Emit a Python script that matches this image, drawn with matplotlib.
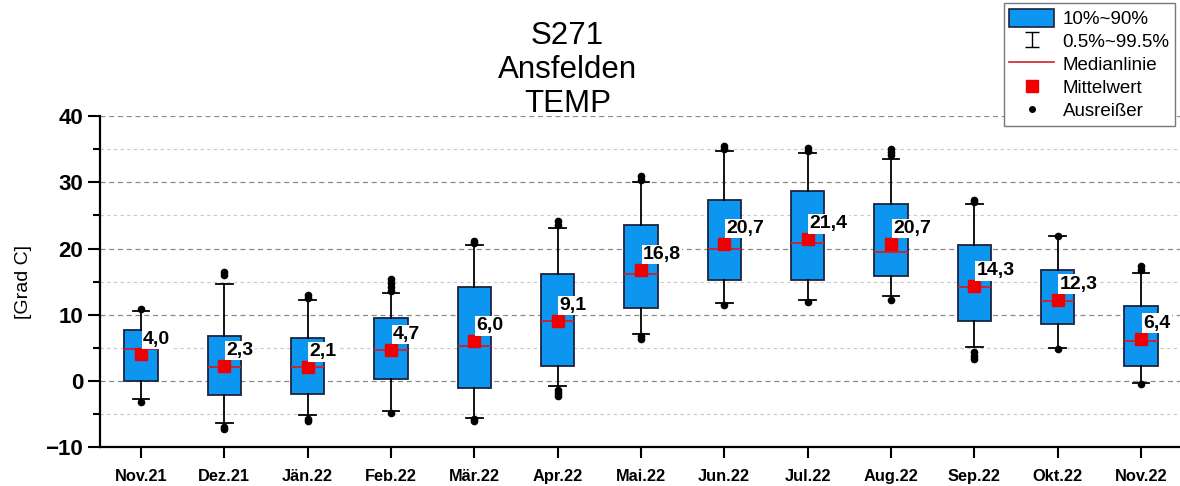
import matplotlib
matplotlib.use("Agg")
import matplotlib.pyplot as plt
import numpy as np
from matplotlib.lines import Line2D
from matplotlib.patches import Patch
from matplotlib.container import ErrorbarContainer
from matplotlib.legend_handler import HandlerErrorbar
from matplotlib.ticker import MultipleLocator

plt.rcParams['font.family'] = ['Liberation Sans', 'DejaVu Sans']

# Monatswerte TEMP, S271 Ansfelden
monate = ["Nov.21", "Dez.21", "Jän.22", "Feb.22", "Mär.22", "Apr.22", "Mai.22",
          "Jun.22", "Jul.22", "Aug.22", "Sep.22", "Okt.22", "Nov.22"]
p10 = [0.0, -2.2, -1.9, 0.25, -1.0, 2.3, 11.0, 15.3, 15.2, 15.9, 9.0, 8.6, 2.3]
p90 = [7.7, 6.8, 6.5, 9.5, 14.2, 16.1, 23.6, 27.3, 28.7, 26.8, 20.5, 16.8, 11.3]
median = [4.8, 2.1, 2.1, 4.6, 5.3, 9.0, 16.2, 19.9, 20.9, 19.5, 14.2, 12.0, 6.0]
mittel = [4.0, 2.3, 2.1, 4.7, 6.0, 9.1, 16.8, 20.7, 21.4, 20.7, 14.3, 12.3, 6.4]
p005 = [-2.7, -6.3, -5.2, -4.6, -5.6, -0.7, 7.1, 11.8, 12.2, 12.8, 5.1, 5.0, -0.3]
p995 = [10.6, 14.7, 12.2, 13.3, 20.6, 23.1, 30.0, 34.8, 34.4, 33.6, 26.7, 21.9, 16.3]
ausreisser = [
    [10.9, -3.2],
    [16.0, 16.4, -7.0, -7.3],
    [12.6, 13.0, -5.8, -6.1],
    [13.6, 14.2, 14.8, 15.4, -4.8],
    [20.9, 21.2, -5.8, -6.1],
    [23.5, 24.1, -1.3, -1.8, -2.3],
    [30.3, 30.9, 6.4, 6.8],
    [35.0, 35.5, 11.5],
    [34.7, 35.2, 11.9],
    [34.1, 34.6, 35.1, 12.3],
    [27.0, 27.4, 3.3, 3.8, 4.4],
    [21.9, 4.8],
    [16.7, 17.3, -0.4],
]

fig = plt.figure(figsize=(11.8, 4.86), dpi=100)
ax = fig.add_axes([0.0847, 0.080, 0.9153, 0.681])

stats = []
for i in range(len(monate)):
    stats.append(dict(med=median[i], q1=p10[i], q3=p90[i], whislo=p005[i],
                      whishi=p995[i], mean=mittel[i], fliers=ausreisser[i]))

blau = "#0C96F0"
ax.bxp(stats, positions=range(len(monate)), widths=0.4, patch_artist=True,
       showmeans=True, showfliers=True,
       boxprops=dict(facecolor=blau, edgecolor="#1c2340", linewidth=1.3),
       whiskerprops=dict(color="black", linewidth=1.3),
       capprops=dict(color="black", linewidth=1.3),
       capwidths=0.2,
       medianprops=dict(color="#d0202a", linewidth=1.3),
       meanprops=dict(marker="s", markerfacecolor="#ee0000", markeredgecolor="#ee0000",
                      markersize=8),
       flierprops=dict(marker="o", markerfacecolor="black", markeredgecolor="black",
                       markersize=4.5))

for i, m in enumerate(mittel):
    ax.annotate(f"{m:.1f}".replace(".", ","), (i, m), xytext=(1.5, 11),
                textcoords="offset points", ha="left", va="center",
                fontsize=14, fontweight="bold", zorder=5,
                bbox=dict(facecolor="white", edgecolor="none", pad=1.0))

ax.set_xlim(-0.492, 12.47)
ax.set_ylim(-10, 40)
ax.set_xticks(range(len(monate)))
ax.set_xticklabels(monate, fontsize=11.8, fontweight="bold")
ax.yaxis.set_major_locator(MultipleLocator(10))
ax.yaxis.set_minor_locator(MultipleLocator(5))
for lbl in ax.get_yticklabels():
    lbl.set_fontsize(16)
    lbl.set_fontweight("bold")
ax.tick_params(axis="y", which="major", direction="out", length=9, width=1.5, pad=3)
ax.tick_params(axis="y", which="minor", direction="out", length=5, width=1.5)
ax.tick_params(axis="x", direction="out", length=8, width=1.5, pad=8)
ax.grid(True, which="major", axis="y", linestyle=(0, (4, 3)), color="#8a8a8a", linewidth=0.9)
ax.grid(True, which="minor", axis="y", linestyle=(0, (3, 3)), color="#c8c8c8", linewidth=0.8)
ax.set_axisbelow(True)
for s in ["top", "right"]:
    ax.spines[s].set_visible(False)
ax.spines["left"].set_linewidth(1.6)
ax.spines["bottom"].set_linewidth(1.6)
ax.set_ylabel("[Grad C]", fontsize=14, labelpad=10)

fig.text(0.481, 0.856, "S271\nAnsfelden\nTEMP", ha="center", va="center",
         fontsize=22.5, linespacing=1.17)

# Legende
eb = ax.errorbar([np.nan], [np.nan], yerr=[[1.0], [1.0]], fmt="none", ecolor="black",
                 elinewidth=1.0, capsize=5, capthick=1.0)
handles = [
    Patch(facecolor=blau, edgecolor="#1c2340", linewidth=1.2),
    eb,
    Line2D([], [], color="#d0202a", linewidth=1.2),
    Line2D([], [], linestyle="none", marker="s", markersize=8, color="#ee0000"),
    Line2D([], [], linestyle="none", marker="o", markersize=4, color="black"),
]
labels = ["10%~90%", "0.5%~99.5%", "Medianlinie", "Mittelwert", "Ausreißer"]
leg = fig.legend(handles, labels, loc="upper right", bbox_to_anchor=(0.996, 0.994),
                 fontsize=13.5, frameon=True, fancybox=False, framealpha=1,
                 edgecolor="#777777", handlelength=2.4, handleheight=1.1,
                 labelspacing=0.2, borderpad=0.3, handletextpad=0.45, borderaxespad=0,
                 handler_map={ErrorbarContainer: HandlerErrorbar(yerr_size=0.4)})
leg.get_frame().set_linewidth(1.0)

fig.savefig("out.png", dpi=100)
